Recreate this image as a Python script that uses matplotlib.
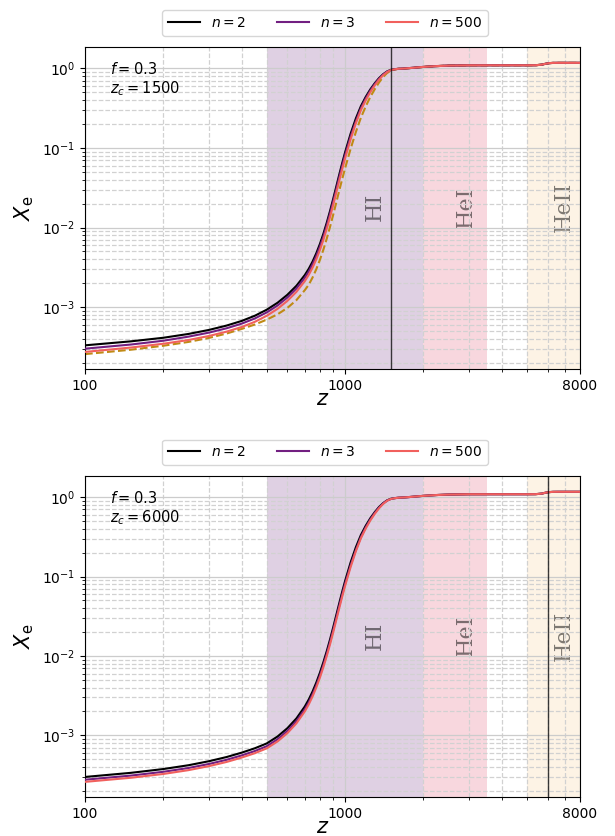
import matplotlib
matplotlib.use("Agg")
import matplotlib.pyplot as plt
from matplotlib.ticker import FixedLocator, FixedFormatter, LogLocator, NullFormatter

# Redshift samples: dense through hydrogen recombination
z_low = [100, 150, 200, 250, 300, 350, 400, 450, 500, 550, 600, 650, 700,
         725, 750, 775, 800, 825, 850, 875, 900, 925, 950, 975, 1000, 1050,
         1100, 1150, 1200, 1250, 1300, 1350, 1400, 1450, 1500, 1550]
z_high = [1600, 1700, 1800, 2000, 2250, 2500, 3000, 4000, 5000, 5400, 5700,
          5900, 6100, 6300, 6600, 7000, 8000]

# Ionisation fraction above z = 1600 (identical for every run)
xe_high = [0.984, 0.995, 1.01, 1.04, 1.065, 1.08, 1.09, 1.09, 1.09, 1.092,
           1.11, 1.14, 1.16, 1.168, 1.17, 1.17, 1.17]

# Panel 1: f = 0.3, z_c = 1500
top_n2 = [3.311e-4, 3.715e-4, 4.121e-4, 4.603e-4, 5.176e-4, 5.861e-4, 6.699e-4,
          7.798e-4, 9.290e-4, 1.135e-3, 1.429e-3, 1.854e-3, 2.529e-3, 3.034e-3,
          3.741e-3, 4.753e-3, 6.209e-3, 8.337e-3, 1.148e-2, 1.611e-2, 2.291e-2,
          3.273e-2, 4.645e-2, 6.471e-2, 8.810e-2, 0.1507, 0.2344, 0.3342,
          0.4365, 0.5433, 0.6486, 0.7516, 0.8414, 0.9120, 0.9550, 0.9727]
top_n3 = [3.006e-4, 3.388e-4, 3.783e-4, 4.258e-4, 4.788e-4, 5.421e-4, 6.197e-4,
          7.213e-4, 8.593e-4, 1.050e-3, 1.322e-3, 1.715e-3, 2.339e-3, 2.806e-3,
          3.460e-3, 4.397e-3, 5.743e-3, 7.712e-3, 1.062e-2, 1.490e-2, 2.119e-2,
          3.028e-2, 4.297e-2, 5.986e-2, 8.149e-2, 0.1394, 0.2168, 0.3155,
          0.4169, 0.5248, 0.6337, 0.7396, 0.8338, 0.9074, 0.9531, 0.9727]
top_n500 = [2.735e-4, 3.106e-4, 3.466e-4, 3.862e-4, 4.343e-4, 4.917e-4, 5.620e-4,
            6.543e-4, 7.794e-4, 9.523e-4, 1.199e-3, 1.556e-3, 2.122e-3, 2.546e-3,
            3.139e-3, 3.988e-3, 5.209e-3, 6.995e-3, 9.632e-3, 1.352e-2, 1.922e-2,
            2.746e-2, 3.897e-2, 5.429e-2, 7.392e-2, 0.1282, 0.2042, 0.2978,
            0.3955, 0.5015, 0.6084, 0.7178, 0.8170, 0.8974, 0.9483, 0.9708]
top_ref = [2.569e-4, 2.916e-4, 3.272e-4, 3.655e-4, 4.110e-4, 4.654e-4, 5.319e-4,
           6.051e-4, 6.968e-4, 8.127e-4, 9.774e-4, 1.225e-3, 1.634e-3, 1.914e-3,
           2.361e-3, 2.999e-3, 3.918e-3, 5.261e-3, 7.244e-3, 1.017e-2, 1.446e-2,
           2.065e-2, 2.931e-2, 4.083e-2, 5.559e-2, 0.0974, 0.1585, 0.2393,
           0.3313, 0.4368, 0.5455, 0.6622, 0.7766, 0.8710, 0.9330, 0.9639]

# Panel 2: f = 0.3, z_c = 6000
bot_n2 = [2.987e-4, 3.366e-4, 3.758e-4, 4.198e-4, 4.721e-4, 5.322e-4, 6.042e-4,
          6.870e-4, 7.906e-4, 9.659e-4, 1.230e-3, 1.633e-3, 2.306e-3, 2.831e-3,
          3.573e-3, 4.625e-3, 6.141e-3, 8.337e-3, 1.148e-2, 1.611e-2, 2.291e-2,
          3.273e-2, 4.645e-2, 6.471e-2, 8.810e-2, 0.1507, 0.2344, 0.3342,
          0.4365, 0.5433, 0.6486, 0.7516, 0.8414, 0.9120, 0.9550, 0.9727]
bot_n3 = [2.757e-4, 3.107e-4, 3.469e-4, 3.875e-4, 4.357e-4, 4.912e-4, 5.577e-4,
          6.341e-4, 7.297e-4, 8.915e-4, 1.135e-3, 1.507e-3, 2.128e-3, 2.613e-3,
          3.298e-3, 4.269e-3, 5.668e-3, 7.695e-3, 1.060e-2, 1.487e-2, 2.115e-2,
          3.021e-2, 4.287e-2, 5.973e-2, 8.132e-2, 0.1391, 0.2164, 0.3155,
          0.4169, 0.5248, 0.6337, 0.7396, 0.8338, 0.9074, 0.9531, 0.9727]
bot_n500 = [2.590e-4, 2.918e-4, 3.258e-4, 3.640e-4, 4.093e-4, 4.614e-4, 5.238e-4,
            5.956e-4, 6.855e-4, 8.374e-4, 1.066e-3, 1.416e-3, 1.999e-3, 2.454e-3,
            3.098e-3, 4.010e-3, 5.324e-3, 7.228e-3, 9.953e-3, 1.397e-2, 1.986e-2,
            2.838e-2, 4.027e-2, 5.610e-2, 7.638e-2, 0.1319, 0.2089, 0.3035,
            0.4029, 0.5096, 0.6168, 0.7245, 0.8221, 0.9020, 0.9502, 0.9708]

f_value = 0.3
z_cut = [1500, 6000]
n_labels = [r"$n = 2$", r"$n = 3$", r"$n = 500$"]
n_colors = ["black", "#721f81", "#f1605d"]
ref_color = "#c08a14"

# Recombination eras: (name, z_low, z_high, colour, label position)
eras = [("HI", 500, 2000, "#dfd0e3", 1300),
        ("HeI", 2000, 3500, "#f8d7de", 2900),
        ("HeII", 5000, 9000, "#fdf3e5", 6900)]

z_all = z_low + z_high

fig = plt.figure(figsize=(6.15, 8.36), dpi=100)
W, H = 615, 836
ax1 = fig.add_axes([85 / W, 1 - 369 / H, 495 / W, 322 / H])
ax2 = fig.add_axes([85 / W, 1 - 797 / H, 495 / W, 321 / H])

panels = [(ax1, [top_n2, top_n3, top_n500], top_ref, z_cut[0]),
          (ax2, [bot_n2, bot_n3, bot_n500], None, z_cut[1])]

for ax, curves, ref, zc in panels:
    ax.set_xscale("log")
    ax.set_yscale("log")
    for name, lo, hi, col, xpos in eras:
        ax.axvspan(lo, hi, color=col, lw=0, zorder=0)
        ax.text(xpos, 0.018, name, rotation=90, ha="center", va="center",
                fontsize=16, family="DejaVu Serif", color="k", alpha=0.5,
                zorder=1)
    if ref is not None:
        ax.plot(z_all, ref + xe_high, ls="--", color=ref_color, lw=1.5, zorder=2)
    for vals, lab, col in zip(curves, n_labels, n_colors):
        ax.plot(z_all, vals + xe_high, color=col, lw=1.5, label=lab, zorder=3)
    ax.axvline(zc, color="k", lw=1.0, alpha=0.75, zorder=4)

    ax.set_xlim(100, 8000)
    ax.set_ylim(1.67e-4, 1.85)
    ax.xaxis.set_major_locator(FixedLocator([100, 1000, 8000]))
    ax.xaxis.set_major_formatter(FixedFormatter(["100", "1000", "8000"]))
    ax.xaxis.set_minor_locator(LogLocator(base=10, subs=range(2, 10), numticks=20))
    ax.xaxis.set_minor_formatter(NullFormatter())
    ax.yaxis.set_minor_locator(LogLocator(base=10, subs=range(2, 10), numticks=20))
    ax.yaxis.set_minor_formatter(NullFormatter())
    ax.grid(which="major", color="0.8", lw=0.9, ls="-")
    ax.grid(which="minor", color="0.82", lw=0.9, ls="--")
    ax.tick_params(labelsize=10)

    ax.set_xlabel(r"$z$", fontsize=15, labelpad=-3, x=0.48)
    ax.set_ylabel(r"$X_{\rm e}$", fontsize=15)
    ax.text(0.05, 0.955, rf"$f = {f_value}$" + "\n" + rf"$z_c = {zc}$",
            transform=ax.transAxes, ha="left", va="top", fontsize=10.5,
            linespacing=1.1)
    ax.legend(loc="upper center", bbox_to_anchor=(0.485, 1.135), ncol=3,
              fontsize=10, handlelength=2.3, columnspacing=2.2)

fig.savefig("out.png", dpi=100)
